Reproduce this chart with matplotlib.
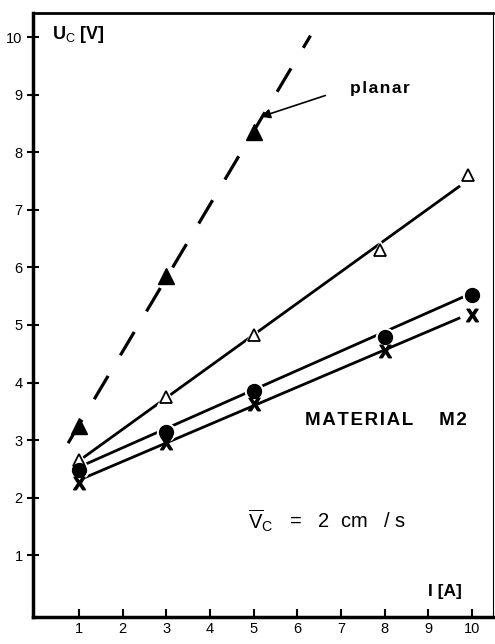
import numpy as np
import matplotlib
matplotlib.use('Agg')
import matplotlib.pyplot as plt

plt.rcParams['font.family'] = ['Liberation Sans', 'DejaVu Sans']
plt.rcParams['mathtext.fontset'] = 'custom'
plt.rcParams['mathtext.rm'] = 'Liberation Sans'
plt.rcParams['mathtext.it'] = 'Liberation Sans'
plt.rcParams['mathtext.bf'] = 'Liberation Sans:bold'

# planar (filled triangles)
I_planar = [1, 3, 5]
U_planar = [3.25, 5.85, 8.35]

# open triangles
I_tri = [1, 3, 5, 7.9, 9.9]
U_tri = [2.66, 3.75, 4.83, 6.3, 7.6]

# filled circles
I_dot = [1, 3, 5, 8, 10]
U_dot = [2.48, 3.15, 3.85, 4.8, 5.52]

# crosses
I_x = [1, 3, 5, 8, 10]
U_x = [2.25, 2.95, 3.62, 4.55, 5.17]

def spaced(s):
    return '\u200a'.join(s)

fig = plt.figure(figsize=(4.95, 6.44), dpi=100)
ax = fig.add_axes([0.067, 0.042, 0.929, 0.938])

# fitted lines
p = np.polyfit(I_planar, U_planar, 1)
xs = np.array([0.75, 6.3])
ax.plot(xs, np.polyval(p, xs), color='black', lw=2.3, dashes=(8.5, 7.5), zorder=1)

p = np.polyfit(I_tri, U_tri, 1)
xs = np.array([1.0, 9.7])
ax.plot(xs, np.polyval(p, xs), color='black', lw=2, zorder=1)

p = np.polyfit(I_dot, U_dot, 1)
xs = np.array([1.1, 9.85])
ax.plot(xs, np.polyval(p, xs) + 0.05, color='black', lw=2, zorder=1)

p = np.polyfit(I_x, U_x, 1)
xs = np.array([1.1, 9.7])
ax.plot(xs, np.polyval(p, xs) + 0.02, color='black', lw=2, zorder=1)

# white halos so lines break at markers
ax.plot(I_tri, U_tri, ls='none', marker='^', ms=13, color='white', zorder=2)
ax.plot(I_dot, U_dot, ls='none', marker='o', ms=13, color='white', zorder=2)

ax.plot(I_planar, U_planar, ls='none', marker='^', ms=11, color='black', zorder=3)
ax.plot(I_tri, U_tri, ls='none', marker='^', ms=9, mfc='white', mec='black', mew=1.3, zorder=3)
ax.plot(I_x, U_x, ls='none', marker=r'$\mathbf{X}$', ms=9, color='black', zorder=3)
ax.plot(I_dot, U_dot, ls='none', marker='o', ms=10, color='black', zorder=4)

ax.annotate('', xy=(5.1, 8.6), xytext=(6.7, 9.0),
            arrowprops=dict(arrowstyle='-|>', color='black', lw=1.2, mutation_scale=14))
ax.text(7.2, 9.1, spaced('planar'), fontsize=12.5, fontweight='bold', va='center')
ax.text(0.39, 10.05, r'U$_\mathrm{C}$ [V]', fontsize=13, fontweight='bold', va='center')
ax.text(6.18, 3.35, spaced('MATERIAL') + '     ' + spaced('M2'), fontsize=13.5,
        fontweight='bold', va='center')
ax.text(4.87, 1.6, r'$\overline{\mathrm{V}}_\mathrm{C}$   =   2  cm   / s', fontsize=14.5, va='center')
ax.text(9.0, 0.38, 'I [A]', fontsize=12.5, fontweight='bold', va='center')

ax.set_xlim(-0.05, 10.48)
ax.set_ylim(-0.07, 10.42)
ax.set_xticks(range(1, 11))
ax.set_yticks(range(1, 11))
ax.tick_params(direction='in', length=6, width=1.5, labelsize=10.5)
ax.tick_params(axis='y', direction='inout', length=8)
for s in ['left', 'bottom']:
    ax.spines[s].set_linewidth(2.5)
ax.spines['top'].set_linewidth(2)
ax.spines['right'].set_linewidth(0.8)

fig.savefig('out.png', dpi=100)
